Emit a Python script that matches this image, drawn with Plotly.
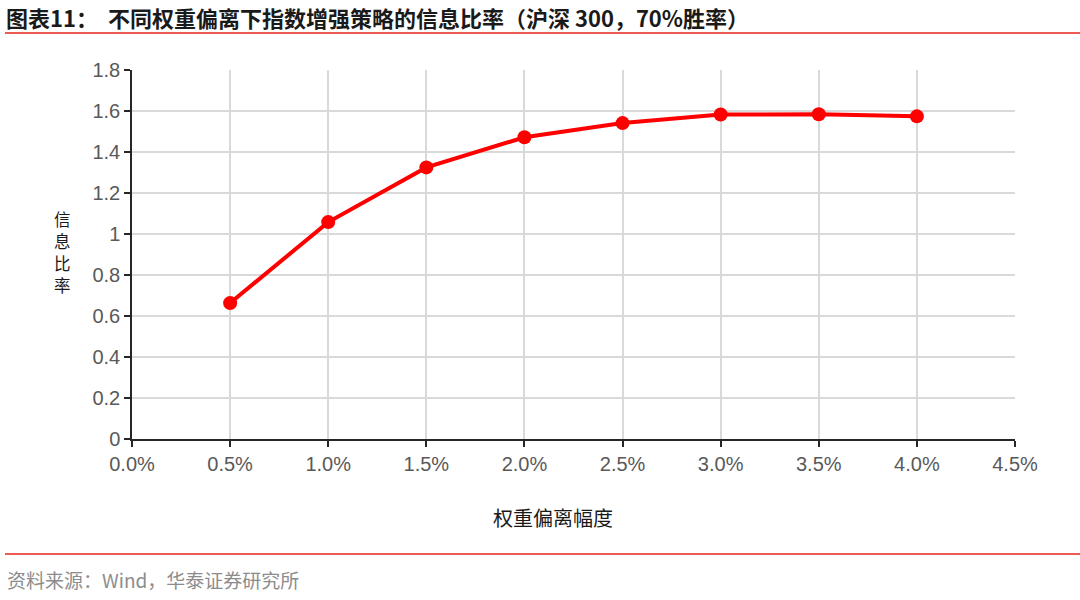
import plotly.graph_objects as go

x_vals = [0.005, 0.010, 0.015, 0.020, 0.025, 0.030, 0.035, 0.040]
ir_vals = [0.663, 1.058, 1.325, 1.472, 1.541, 1.583, 1.584, 1.574]
x_ticks = [0.0, 0.005, 0.010, 0.015, 0.020, 0.025, 0.030, 0.035, 0.040, 0.045]
x_tick_labels = ["0.0%", "0.5%", "1.0%", "1.5%", "2.0%", "2.5%", "3.0%", "3.5%", "4.0%", "4.5%"]
y_ticks = [0, 0.2, 0.4, 0.6, 0.8, 1.0, 1.2, 1.4, 1.6, 1.8]
y_tick_labels = ["0", "0.2", "0.4", "0.6", "0.8", "1", "1.2", "1.4", "1.6", "1.8"]

title_text = "图表11：  不同权重偏离下指数增强策略的信息比率（沪深 300，70%胜率）"
source_text = "资料来源：Wind，华泰证券研究所"
x_title = "权重偏离幅度"
y_title_chars = ["信", "息", "比", "率"]

W, H = 1080, 600
L, R, T, B = 132, 65, 70, 161
pw, ph = W - L - R, H - T - B

def px(xp):
    return (xp - L) / pw

def py(yp):
    return 1 - (yp - T) / ph

fig = go.Figure()
fig.add_trace(go.Scatter(
    x=x_vals, y=ir_vals, mode="lines+markers",
    line=dict(color="#FF0000", width=4),
    marker=dict(color="#FF0000", size=14),
    showlegend=False, hoverinfo="x+y",
))

tick_font = dict(family="Liberation Sans, Arial, sans-serif", size=20, color="#595959")
cjk = "Noto Sans CJK SC"

annotations = [
    dict(text="<b>" + title_text + "</b>", xref="paper", yref="paper", x=px(4), y=py(17),
         xanchor="left", yanchor="middle", showarrow=False,
         font=dict(family=cjk, size=22, color="#1a1a1a")),
    dict(text=source_text, xref="paper", yref="paper", x=px(5), y=py(579),
         xanchor="left", yanchor="middle", showarrow=False,
         font=dict(family=cjk, size=19, color="#8c8c8c")),
    dict(text=x_title, xref="paper", yref="paper", x=px(553), y=py(517),
         xanchor="center", yanchor="middle", showarrow=False,
         font=dict(family=cjk, size=20, color="#1a1a1a")),
]
for i, ch in enumerate(y_title_chars):
    annotations.append(dict(text=ch, xref="paper", yref="paper", x=px(62), y=py(219 + 22 * i),
                            xanchor="center", yanchor="middle", showarrow=False, borderpad=0,
                            font=dict(family=cjk, size=16.5, color="#1a1a1a")))

fig.update_layout(
    width=W, height=H,
    margin=dict(l=L, r=R, t=T, b=B, autoexpand=False),
    paper_bgcolor="white", plot_bgcolor="white",
    xaxis=dict(
        range=[0, 0.045], tickvals=x_ticks, ticktext=x_tick_labels,
        showgrid=True, gridcolor="#D9D9D9", gridwidth=1.5,
        showline=True, linecolor="#262626", linewidth=1.5,
        ticks="outside", ticklen=6, tickcolor="#262626", tickwidth=1.5,
        tickfont=tick_font, zeroline=False, fixedrange=True,
    ),
    yaxis=dict(
        range=[0, 1.8], tickvals=y_ticks, ticktext=y_tick_labels,
        showgrid=True, gridcolor="#D9D9D9", gridwidth=1.5,
        showline=True, linecolor="#262626", linewidth=1.5,
        ticks="outside", ticklen=6, tickcolor="#262626", tickwidth=1.5,
        tickfont=tick_font, zeroline=False, fixedrange=True,
    ),
    shapes=[
        dict(type="line", xref="paper", yref="paper", x0=px(5), x1=px(1080), y0=py(33), y1=py(33),
             line=dict(color="#E8251E", width=1.5)),
        dict(type="line", xref="paper", yref="paper", x0=px(5), x1=px(1080), y0=py(554), y1=py(554),
             line=dict(color="#E8251E", width=1.5)),
    ],
    annotations=annotations,
)

fig.write_html("out.html", config={"displayModeBar": False},
               post_script="document.body.style.margin='0';document.body.style.overflow='hidden';")
